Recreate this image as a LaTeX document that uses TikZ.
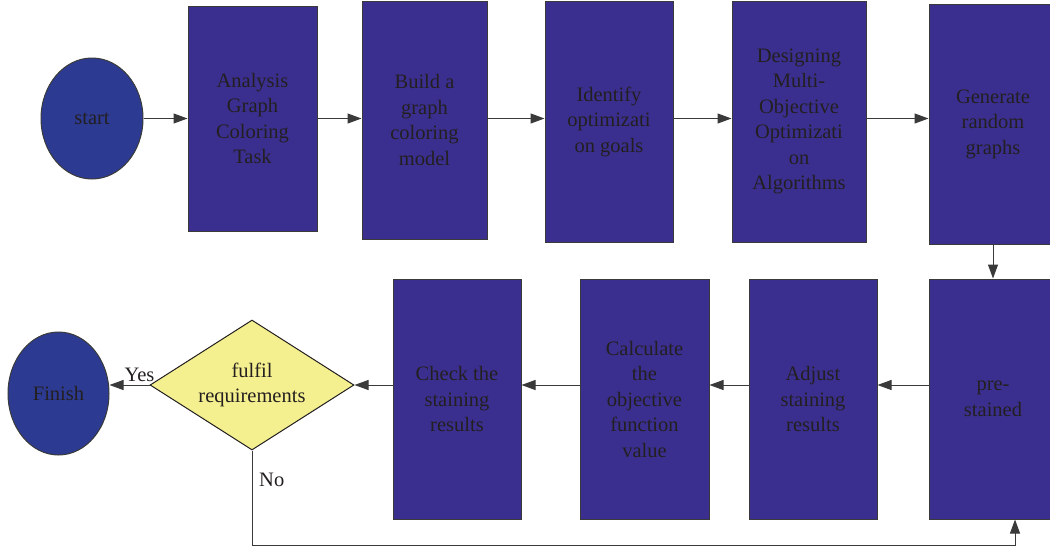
\documentclass[tikz,border=0pt]{standalone}
\usepackage{fontspec}
\setmainfont{Liberation Serif}
\newfontfamily\figserif{Liberation Serif}
\usetikzlibrary{arrows.meta,shapes.geometric,calc}
\definecolor{boxblue}{HTML}{3A2F8F}
\definecolor{ellblue}{HTML}{2C3A92}
\definecolor{diayel}{HTML}{F5F08F}
\definecolor{ink}{HTML}{231F20}
\definecolor{edge}{HTML}{3A3A3A}
\begin{document}
\begin{tikzpicture}[x=1pt,y=-1pt,
  txt/.style={font=\figserif\fontsize{20.5}{25.5}\selectfont, text=ink},
  box/.style={txt, draw=edge, line width=1pt, fill=boxblue, align=center, inner sep=0pt},
  ell/.style={txt, ellipse, draw=edge, line width=1pt, fill=ellblue, inner sep=0pt},
  dia/.style={txt, diamond, aspect=1.57, draw=ink, line width=1pt, fill=diayel, align=center, inner sep=0pt, minimum width=204pt, minimum height=130pt},
  arr/.style={draw=edge, line width=1pt, -{Triangle[length=14pt,width=10pt]}},
  lbl/.style={txt, inner sep=2pt}
]
\useasboundingbox (0,0) rectangle (1050,550);
\clip (0,0) rectangle (1050,550);

\node[ell, minimum width=102pt, minimum height=121pt] (start) at (92,118.5) {start};
\node[box, minimum width=129pt, minimum height=225pt] (b1) at (252.5,118.5) {Analysis\\Graph\\Coloring\\Task};
\node[box, minimum width=125pt, minimum height=238pt] (b2) at (424.5,120) {Build a\\graph\\coloring\\model};
\node[box, minimum width=128pt, minimum height=241pt] (b3) at (609,121.5) {Identify\\optimizati\\on goals};
\node[box, minimum width=134pt, minimum height=241pt] (b4) at (799,121.5) {Designing\\Multi-\\Objective\\Optimizati\\on\\Algorithms};
\node[box, minimum width=128pt, minimum height=240pt] (b5) at (993,124) {Generate\\random\\graphs};

\node[box, minimum width=128pt, minimum height=240pt] (pre) at (993,399) {pre-\\stained};
\node[box, minimum width=128pt, minimum height=240pt] (adj) at (813,399) {Adjust\\staining\\results};
\node[box, minimum width=129pt, minimum height=240pt] (cal) at (644.5,399) {Calculate\\the\\objective\\function\\value};
\node[box, minimum width=128pt, minimum height=240pt] (chk) at (457,399) {Check the\\staining\\results};
\node[dia] (dec) at (252,385) {fulfil\\requirements};
\node[ell, minimum width=101pt, minimum height=123pt] (fin) at (58.5,393.5) {Finish};

\draw[arr] (start.east) -- (b1.west |- start.east);
\draw[arr] (b1.east |- start.east) -- (b2.west |- start.east);
\draw[arr] (b2.east |- start.east) -- (b3.west |- start.east);
\draw[arr] (b3.east |- start.east) -- (b4.west |- start.east);
\draw[arr] (b4.east |- start.east) -- (b5.west |- start.east);
\draw[arr] (b5.south) -- (pre.north);
\draw[arr] (pre.west |- dec.east) -- (adj.east |- dec.east);
\draw[arr] (adj.west |- dec.east) -- (cal.east |- dec.east);
\draw[arr] (cal.west |- dec.east) -- (chk.east |- dec.east);
\draw[arr] (chk.west |- dec.east) -- (dec.east);
\draw[arr] (dec.west) -- node[lbl, pos=0.25, above=1pt] {Yes} (dec.west -| fin.east);
\coordinate (loopc) at (1015,545);
\draw[arr] (dec.south) |- (loopc) -- (loopc |- pre.south);
\node[lbl, anchor=west] (no) at ($(dec.south)+(5,29)$) {No};
\end{tikzpicture}
\end{document}
